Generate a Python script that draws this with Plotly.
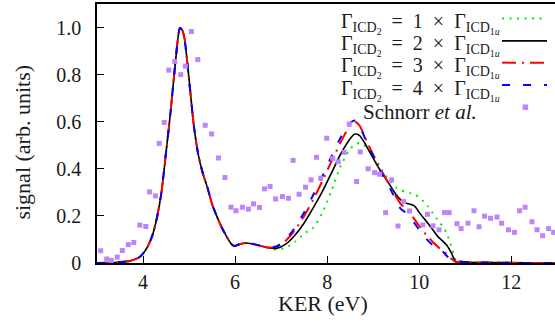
import plotly.graph_objects as go

# ---------------- data ----------------
x_grid = [3.0, 3.4, 3.7, 3.9, 4.0, 4.1, 4.2, 4.3, 4.4, 4.5, 4.6, 4.7, 4.8, 4.85, 4.9,
          5.0, 5.1, 5.2, 5.3, 5.4, 5.5, 5.6, 5.7, 5.8, 5.9, 5.98, 6.1, 6.25, 6.45,
          6.7, 6.9, 7.1, 7.3, 7.5, 7.7, 7.9, 8.1, 8.3, 8.5, 8.6, 8.7, 8.8, 8.9, 9.0,
          9.1, 9.2, 9.3, 9.4, 9.5, 9.6, 9.7, 9.8, 9.9, 10.0, 10.1, 10.2, 10.3, 10.4,
          10.5, 10.6, 10.7, 10.8, 10.9, 11.0, 11.2, 11.5, 12.0, 12.5, 13.0]

common_head = [0.0, 0.002, 0.008, 0.022, 0.04, 0.07, 0.115, 0.19, 0.30, 0.47, 0.645,
               0.845, 0.998, 0.99, 0.955, 0.78, 0.59, 0.46, 0.38, 0.32, 0.25, 0.20,
               0.155, 0.118, 0.085, 0.072, 0.08, 0.085, 0.078]

gamma1_tail = [0.064, 0.057, 0.065, 0.09, 0.125, 0.15, 0.215, 0.31, 0.415, 0.485, 0.503,
               0.51, 0.5, 0.48, 0.455, 0.425, 0.395, 0.365, 0.34, 0.32, 0.31, 0.302,
               0.297, 0.292, 0.278, 0.26, 0.238, 0.21, 0.183, 0.158, 0.125, 0.07, 0.01,
               0.005, 0.004, 0.002, 0.002, 0.001, 0.0, 0.0]
gamma2_tail = [0.066, 0.062, 0.08, 0.118, 0.17, 0.235, 0.305, 0.385, 0.465, 0.528, 0.548,
               0.542, 0.515, 0.48, 0.445, 0.41, 0.38, 0.35, 0.32, 0.29, 0.268, 0.255,
               0.25, 0.242, 0.215, 0.19, 0.166, 0.14, 0.113, 0.095, 0.075, 0.042, 0.003,
               0.005, 0.004, 0.002, 0.002, 0.001, 0.0, 0.0]
gamma3_tail = [0.066, 0.068, 0.095, 0.14, 0.2, 0.27, 0.35, 0.435, 0.515, 0.585, 0.6,
               0.585, 0.545, 0.5, 0.46, 0.42, 0.385, 0.35, 0.315, 0.28, 0.25, 0.232,
               0.21, 0.185, 0.158, 0.132, 0.11, 0.088, 0.07, 0.053, 0.038, 0.018, 0.004,
               0.006, 0.004, 0.002, 0.002, 0.001, 0.0, 0.0]
gamma4_tail = [0.066, 0.07, 0.10, 0.15, 0.215, 0.29, 0.37, 0.455, 0.535, 0.595, 0.605,
               0.585, 0.54, 0.495, 0.455, 0.415, 0.375, 0.34, 0.305, 0.265, 0.23, 0.215,
               0.19, 0.168, 0.14, 0.115, 0.093, 0.075, 0.06, 0.05, 0.03, 0.01, 0.004,
               0.005, 0.004, 0.002, 0.002, 0.001, 0.0, 0.0]

gamma1 = common_head + gamma1_tail
gamma2 = common_head + gamma2_tail
gamma3 = common_head + gamma3_tail
gamma4 = common_head + gamma4_tail

exp_x = [3.08, 3.21, 3.31, 3.44, 3.55, 3.68, 3.80, 3.93, 4.06, 4.14, 4.27, 4.35, 4.46,
         4.56, 4.69, 4.82, 4.92, 5.05, 5.19, 5.35, 5.49, 5.64, 5.78, 5.91, 6.02, 6.16,
         6.29, 6.40, 6.53, 6.64, 6.76, 6.88, 7.03, 7.16, 7.26, 7.39, 7.53, 7.65, 7.77,
         7.86, 7.99, 8.12, 8.24, 8.37, 8.48, 8.64, 8.72, 8.89, 9.03, 9.14, 9.27, 9.40,
         9.54, 9.66, 9.79, 10.08, 10.18, 10.30, 10.43, 10.55, 10.65, 10.82, 10.91, 11.06,
         11.19, 11.30, 11.42, 11.55, 11.69, 11.79, 11.94, 12.07, 12.18, 12.30, 12.45,
         12.56, 12.68, 12.81, 12.92]
exp_y = [0.052, 0.017, 0.011, 0.025, 0.053, 0.078, 0.087, 0.161, 0.155, 0.302, 0.285,
         0.508, 0.597, 0.819, 0.856, 0.80, 0.836, 0.983, 0.864, 0.585, 0.548, 0.446,
         0.363, 0.237, 0.222, 0.237, 0.229, 0.251, 0.236, 0.315, 0.325, 0.272, 0.282,
         0.275, 0.436, 0.292, 0.322, 0.353, 0.449, 0.36, 0.53, 0.445, 0.43, 0.47, 0.59,
         0.346, 0.472, 0.40, 0.384, 0.377, 0.214, 0.353, 0.157, 0.261, 0.221, 0.162,
         0.207, 0.158, 0.141, 0.214, 0.214, 0.167, 0.146, 0.169, 0.222, 0.154, 0.199,
         0.19, 0.195, 0.169, 0.141, 0.13, 0.222, 0.237, 0.175, 0.141, 0.116, 0.146, 0.13]

y_tickvals = [0, 0.2, 0.4, 0.6, 0.8, 1.0]
y_ticktext = ["0", "0.2", "0.4", "0.6", "0.8", "1.0"]
x_tickvals = [4, 6, 8, 10, 12]
x_ticktext = ["4", "6", "8", "10", "12"]

ratio_factors = ["1", "2", "3", "4"]
exp_label = "Schnorr <i>et al.</i>"

# ---------------- styles ----------------
FONT = "Liberation Serif"
TXT = "#1a1a1a"
line_styles = [
    dict(color="#00ee00", width=2, dash="2px,5.5px"),
    dict(color="#000000", width=1.6, dash="solid"),
    dict(color="#ff0000", width=2, dash="14px,6px,2px,6px"),
    dict(color="#0000ff", width=2, dash="8px,13px"),
]
MARKER_COLOR = "#bd85f7"

def gamma_label(k):
    sp = "\u2002"
    g2 = "Γ<sub>ICD<sub>2</sub></sub>"
    g1 = "Γ<sub>ICD<sub>1<i>u</i></sub></sub>"
    return g2 + sp + "=" + sp + k + sp + "×" + sp + g1

fig = go.Figure()
for ys, st in zip([gamma1, gamma2, gamma3, gamma4], line_styles):
    fig.add_trace(go.Scatter(x=x_grid, y=ys, mode="lines",
                             line=dict(color=st["color"], width=st["width"], dash=st["dash"],
                                       shape="spline", smoothing=0.6),
                             showlegend=False, hoverinfo="skip"))
fig.add_trace(go.Scatter(x=exp_x, y=exp_y, mode="markers",
                         marker=dict(symbol="square", size=5, color=MARKER_COLOR,
                                     line=dict(width=0)),
                         showlegend=False, hoverinfo="skip"))

# ---------------- custom legend (text right, sample left->right) ----------------
PLOT_L, PLOT_R, PLOT_T, PLOT_B = 96.5, 555.0, 3.7, 263.3
def px_to_paper(px, py):
    return (px - PLOT_L) / (PLOT_R - PLOT_L), (PLOT_B - py) / (PLOT_B - PLOT_T)

row_py = [18.3, 40.7, 62.5, 85.0, 107.3]
annotations = []
shapes = []
for i, py in enumerate(row_py):
    if i < 4:
        tx, ty = px_to_paper(502, py + 5)
        annotations.append(dict(text=gamma_label(ratio_factors[i]), x=tx, y=ty,
                                xref="paper", yref="paper",
                                xanchor="right", yanchor="middle", showarrow=False,
                                font=dict(family=FONT, size=20, color=TXT)))
        sx0, sy = px_to_paper(502, py)
        sx1, _ = px_to_paper(547, py)
        st = line_styles[i]
        shapes.append(dict(type="line", xref="paper", yref="paper", x0=sx0, x1=sx1,
                           y0=sy, y1=sy,
                           line=dict(color=st["color"], width=st["width"], dash=st["dash"])))
    else:
        tx, ty = px_to_paper(479, py + 5)
        annotations.append(dict(text=exp_label, x=tx, y=ty, xref="paper", yref="paper",
                                xanchor="right", yanchor="middle", showarrow=False,
                                font=dict(family=FONT, size=21, color=TXT)))
        mx, my = px_to_paper(525, py)
        annotations.append(dict(text="■", x=mx, y=my, xref="paper", yref="paper",
                                xanchor="center", yanchor="middle", showarrow=False,
                                font=dict(family="DejaVu Sans", size=7, color=MARKER_COLOR)))

# axis titles as annotations for exact placement
ytx, yty = px_to_paper(22, 142)
annotations.append(dict(text="signal (arb. units)", x=ytx, y=yty, xref="paper", yref="paper",
                        textangle=-90, showarrow=False, xanchor="center", yanchor="middle",
                        font=dict(family=FONT, size=22, color=TXT)))
xtx, xty = px_to_paper(323, 304)
annotations.append(dict(text="KER (eV)", x=xtx, y=xty, xref="paper", yref="paper",
                        showarrow=False, xanchor="center", yanchor="middle",
                        font=dict(family=FONT, size=22, color=TXT)))

fig.update_layout(
    width=555, height=322,
    margin=dict(l=96.5, r=0, t=3.7, b=58.7, pad=0),
    paper_bgcolor="white", plot_bgcolor="white",
    showlegend=False,
    annotations=annotations, shapes=shapes,
    font=dict(family=FONT, size=20, color=TXT),
)
fig.update_xaxes(range=[3, 12.95], showgrid=False, zeroline=False, automargin=False,
                 showline=True, linecolor="black", linewidth=1.5, mirror=True,
                 ticks="inside", ticklen=7, tickwidth=1.3, tickcolor="black",
                 tickvals=x_tickvals, ticktext=x_ticktext, ticklabelstandoff=0,
                 tickfont=dict(family=FONT, size=20, color=TXT))
fig.update_yaxes(range=[0, 1.1], showgrid=False, zeroline=False, automargin=False,
                 showline=True, linecolor="black", linewidth=1.5, mirror=False,
                 ticks="inside", ticklen=7, tickwidth=1.3, tickcolor="black",
                 tickvals=y_tickvals, ticktext=y_ticktext, ticklabelstandoff=10,
                 tickfont=dict(family=FONT, size=20, color=TXT))

fig.write_html("out.html", config={"displayModeBar": False},
               post_script="document.body.style.margin='0';document.body.style.padding='0';")
